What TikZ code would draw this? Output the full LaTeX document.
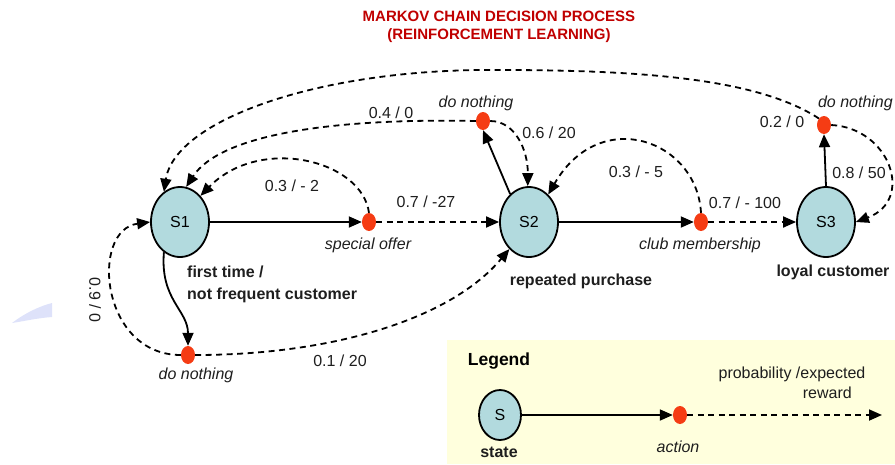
\documentclass[tikz,border=0pt]{standalone}
\usepackage{fontspec}
\setmainfont{Liberation Sans}
\usetikzlibrary{arrows.meta,shapes.geometric}
\definecolor{statefill}{RGB}{178,218,222}
\definecolor{actred}{RGB}{245,60,20}
\definecolor{titlered}{RGB}{192,0,0}
\definecolor{legendbg}{RGB}{255,255,221}
\definecolor{wedgeblue}{RGB}{222,226,250}
\definecolor{labelgray}{RGB}{30,30,30}

\begin{document}
\begin{tikzpicture}[x=1pt,y=-1pt,
  state/.style={ellipse,draw=black,line width=1.8pt,fill=statefill,
    minimum width=58pt,minimum height=70pt,inner sep=0pt,
    font=\fontsize{16}{19}\selectfont},
  action/.style={ellipse,fill=actred,minimum width=14pt,minimum height=18pt,inner sep=0pt},
  lbl/.style={font=\fontsize{16}{19}\selectfont,inner sep=0pt,text=labelgray},
  actlbl/.style={font=\fontsize{16}{19}\selectfont\itshape,inner sep=0pt,text=labelgray},
  statelbl/.style={font=\fontsize{16}{19}\selectfont\bfseries,inner sep=0pt,text=labelgray},
  actarrow/.style={line width=1.8pt,-{Triangle[length=13pt,width=11pt]}},
  probarrow/.style={line width=1.8pt,dash pattern=on 6pt off 4.5pt,-{Triangle[length=13pt,width=11pt]}}
]
\useasboundingbox (0,0) rectangle (895,464);

% faint wedge on the left margin
\fill[wedgeblue] (12,323) .. controls (25,313) and (40,306) .. (52,303) -- (52,317)
  .. controls (38,318) and (25,321) .. cycle;

% title
\node[font=\fontsize{15}{18}\selectfont\bfseries,text=titlered,align=center,inner sep=0pt]
  (title) at (499,27) {MARKOV CHAIN DECISION PROCESS\\(REINFORCEMENT LEARNING)};

% legend panel
\fill[legendbg] (447,340) rectangle (895,464);

% states
\node[state] (s1) at (180,222) {S1};
\node[state] (s2) at (529,222) {S2};
\node[state] (s3) at (826,222) {S3};

% actions
\node[action] (so)  at (369,222) {};
\node[action] (cm)  at (701,222) {};
\node[action] (dn1) at (483,121) {};
\node[action] (dn2) at (824,125) {};
\node[action] (dn3) at (188,355) {};

% state -> action
\draw[actarrow] (s1.east) -- (so.west);
\draw[actarrow] (s1.242) .. controls (160,300) and (188,310) .. (dn3.north);
\draw[actarrow] (s2.124) -- (dn1.south);
\draw[actarrow] (s2.east) -- (cm.west);
\draw[actarrow] (s3.north) -- (dn2.south);

% action -> state
\draw[probarrow] (so.east) -- (s2.west);
\draw[probarrow] (so.north) .. controls (362,160) and (260,135) .. (s1.52);
\draw[probarrow] (dn3.west) .. controls (100,355) and (90,230) .. (s1.west);
\draw[probarrow] (dn3.east) .. controls (330,355) and (450,320) .. (s2.234);
\draw[probarrow] (dn1.east) .. controls (515,121) and (528,150) .. (s2.92);
\draw[probarrow] (dn1.west) .. controls (330,118) and (220,135) .. (s1.80);
\draw[probarrow] (cm.east) -- (s3.west);
\draw[probarrow] (cm.north) .. controls (697,140) and (600,105) .. (s2.55);
\draw[probarrow] (dn2.east) .. controls (890,128) and (915,200) .. (s3.east);
\draw[probarrow] (dn2.north west) .. controls (760,80) and (650,70) .. (500,70)
  .. controls (320,68) and (175,120) .. (s1.118);

% probability / reward labels
\node[lbl] (p1) at (292,186) {0.3 / - 2};
\node[lbl] (p2) at (426,202) {0.7 / -27};
\node[lbl] (p3) at (391,113) {0.4 / 0};
\node[lbl] (p4) at (549,133) {0.6 / 20};
\node[lbl] (p5) at (636,172) {0.3 / - 5};
\node[lbl] (p6) at (745,203) {0.7 / - 100};
\node[lbl] (p7) at (782,122) {0.2 / 0};
\node[lbl] (p8) at (859,173) {0.8 / 50};
\node[lbl] (p9) at (340,361) {0.1 / 20};
\node[lbl,rotate=-90] (p10) at (95,300) {0.9 / 0};

% action labels
\node[actlbl] (aso) at (368,245) {special offer};
\node[actlbl] (acm) at (700,245) {club membership};
\node[actlbl] (adn1) at (476,103) {do nothing};
\node[actlbl,anchor=east] (adn2) at (893,103) {do nothing};
\node[actlbl] (adn3) at (196,375) {do nothing};

% state labels
\node[statelbl,anchor=west] (ls1a) at (187,272) {first time /};
\node[statelbl,anchor=west] (ls1b) at (187,295) {not frequent customer};
\node[statelbl] (ls2) at (581,281) {repeated purchase};
\node[statelbl] (ls3) at (833,272) {loyal customer};

% legend
\node[font=\fontsize{17.5}{20}\selectfont\bfseries,inner sep=0pt] (leg) at (499,361) {Legend};
\node[state,minimum width=42pt,minimum height=50pt] (ls) at (500,415) {S};
\node[action] (la) at (680,415) {};
\coordinate (lend) at (882,415);
\draw[actarrow] (ls.east) -- (la.west);
\draw[probarrow] (la.east) -- (lend);
\node[statelbl] (lstate) at (499,452) {state};
\node[actlbl] (laction) at (678,447) {action};
\node[lbl] (lprob) at (792,374) {probability /expected};
\node[lbl,anchor=east] (lrew) at (852,393) {reward};
\end{tikzpicture}
\end{document}
